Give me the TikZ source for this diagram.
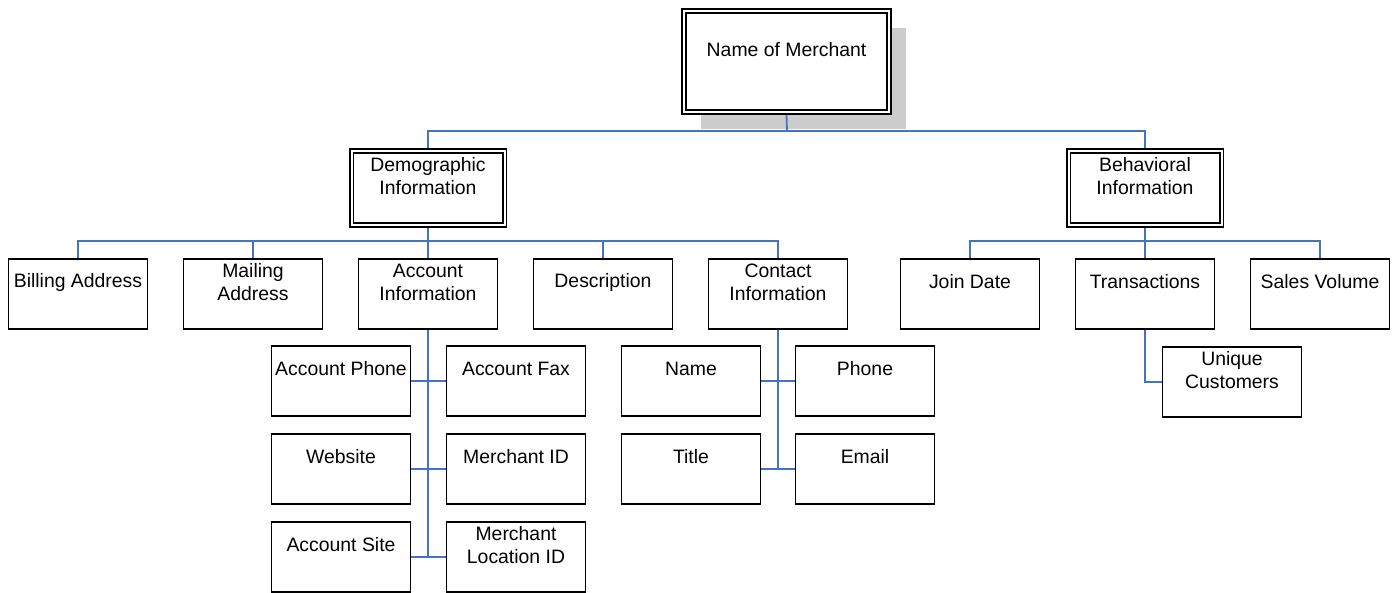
\documentclass[tikz,border=0pt]{standalone}
\usepackage{fontspec}
\setmainfont{Liberation Sans}
\usetikzlibrary{shadows}

\definecolor{linkblue}{HTML}{4472C4}
\definecolor{shadowgray}{HTML}{CCCCCC}

\tikzset{
  txt/.style={font=\fontsize{19.4}{23}\selectfont, align=center, inner sep=0pt},
  leaf/.style={draw, fill=white, line width=1.6pt, minimum width=139pt, minimum height=70pt,
    inner sep=0pt, anchor=north, label={[txt,anchor=center,yshift=-24pt]north:#1}},
  head/.style={draw, fill=white, double=white, double distance=2pt, line width=1.9pt,
    outer sep=2.9pt, inner sep=0pt, anchor=north},
  link/.style={draw=linkblue, line width=1.8pt},
}

\begin{document}
\begin{tikzpicture}[x=1pt,y=-1pt]
    \useasboundingbox (0,0) rectangle (1394,592);

    % top of the chart
    \node[head, minimum width=205pt, minimum height=101pt,
      drop shadow={shadow xshift=17pt, shadow yshift=-17pt, fill=shadowgray, opacity=1},
      label={[txt,anchor=center,yshift=-42pt]north:Name of Merchant}] (root) at (786.5,8) {};

    \node[head, minimum width=153pt, minimum height=74pt,
      label={[txt,anchor=center,yshift=-28.5pt]north:Demographic\\Information}] (demo) at (428,148) {};
    \node[head, minimum width=153pt, minimum height=74pt,
      label={[txt,anchor=center,yshift=-28.5pt]north:Behavioral\\Information}] (behav) at (1145,148) {};

    \coordinate (bus) at (787,131);
    \draw[link] (root.south) -- (bus);
    \draw[link] (demo.north) |- (bus) -| (behav.north);

    % demographic side
    \node[leaf={Billing Address}] (bill) at (78,258) {};
    \node[leaf={Mailing\\Address}] (mail) at (253,258) {};
    \node[leaf={Account\\Information}] (acct) at (428,258) {};
    \node[leaf={Description}] (desc) at (603,258) {};
    \node[leaf={Contact\\Information}] (cont) at (778,258) {};

    \draw[link] (demo.south) -- (acct.north);
    \draw[link] (bill.north) |- (acct.north |- 0,241) -| (cont.north);
    \draw[link] (mail.north) -- (mail.north |- 0,241);
    \draw[link] (desc.north) -- (desc.north |- 0,241);

    \node[leaf={Account Phone}] (aphone) at (341,345) {};
    \node[leaf={Account Fax}] (afax) at (516,345) {};
    \node[leaf={Website}] (web) at (341,433) {};
    \node[leaf={Merchant ID}] (mid) at (516,433) {};
    \node[leaf={Account Site}] (asite) at (341,521) {};
    \node[leaf={Merchant\\Location ID}] (mloc) at (516,521) {};

    \draw[link] (acct.south) -- (acct.south |- mloc.west);
    \draw[link] (aphone.east) -- (afax.west);
    \draw[link] (web.east) -- (mid.west);
    \draw[link] (asite.east) -- (mloc.west);

    \node[leaf={Name}] (cname) at (691,345) {};
    \node[leaf={Phone}] (cphone) at (865,345) {};
    \node[leaf={Title}] (ctitle) at (691,433) {};
    \node[leaf={Email}] (cmail) at (865,433) {};

    \draw[link] (cont.south) -- (cont.south |- cmail.west);
    \draw[link] (cname.east) -- (cphone.west);
    \draw[link] (ctitle.east) -- (cmail.west);

    % behavioral side
    \node[leaf={Join Date}] (join) at (970,258) {};
    \node[leaf={Transactions}] (trans) at (1145,258) {};
    \node[leaf={Sales Volume}] (sales) at (1320,258) {};
    \node[leaf={Unique\\Customers}] (uniq) at (1232,346) {};

    \draw[link] (behav.south) -- (trans.north);
    \draw[link] (join.north) |- (trans.north |- 0,241) -| (sales.north);
    \draw[link] (trans.south) |- (uniq.west);
\end{tikzpicture}
\end{document}
